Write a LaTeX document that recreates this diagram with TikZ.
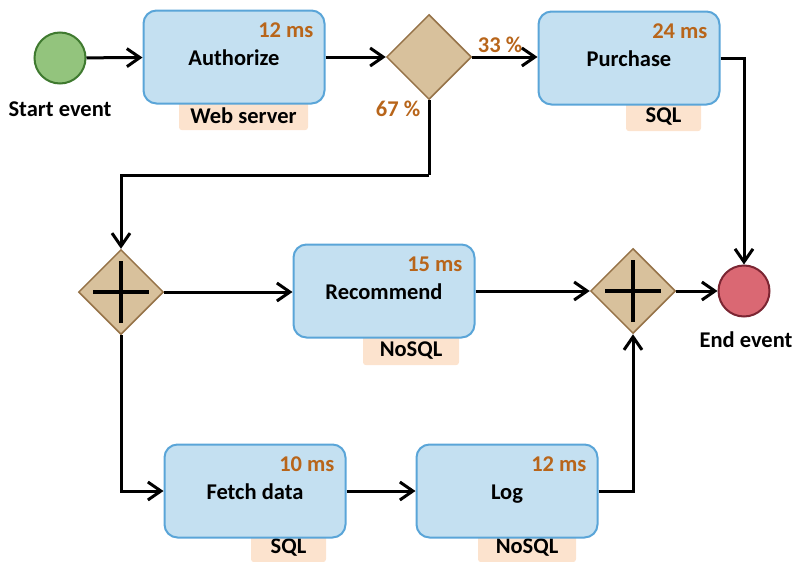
\documentclass[tikz,border=0pt]{standalone}
\usepackage{fontspec}
\setmainfont{Carlito}
\usetikzlibrary{shapes.geometric,arrows.meta}
\definecolor{boxfill}{HTML}{C4E0F1}
\definecolor{boxline}{HTML}{5AA5D8}
\definecolor{tagfill}{HTML}{FCE3CE}
\definecolor{gatefill}{HTML}{D8C19C}
\definecolor{gateline}{HTML}{957247}
\definecolor{startfill}{HTML}{93C47D}
\definecolor{startline}{HTML}{3F7A2F}
\definecolor{endfill}{HTML}{DA6873}
\definecolor{endline}{HTML}{7B2532}
\definecolor{timecol}{HTML}{B8651A}
\tikzset{
  every node/.style={font=\fontsize{22.5}{26}\selectfont\bfseries},
  task/.style={draw=boxline, fill=boxfill, line width=2pt, rounded corners=13pt,
    minimum width=181pt, minimum height=93pt, inner sep=0pt, text height=17pt, text depth=0pt},
  tag/.style={fill=tagfill, rounded corners=3pt, anchor=north, minimum height=30pt, inner sep=0pt},
  gate/.style={diamond, draw=gateline, fill=gatefill, line width=1.5pt, minimum width=85pt,
    minimum height=85pt, inner sep=0pt},
  event/.style={circle, line width=2pt, minimum size=51pt, inner sep=0pt},
  time/.style={text=timecol, anchor=east},
  pct/.style={text=timecol},
  flow/.style={line width=3pt, -{Straight Barb[length=13pt,width=18pt]}},
  line/.style={line width=3pt},
  plus/.style={line width=4pt}
}
\begin{document}
\begin{tikzpicture}[x=1pt,y=-1pt]
\useasboundingbox (0,0) rectangle (793,562);
% tags (behind tasks)
\node[tag, minimum width=129pt] (tagA) at (243.5,100) {Web server};
\node[tag, minimum width=75pt] (tagP) at (663.5,101) {SQL};
\node[tag, minimum width=96pt] (tagR) at (411,335) {NoSQL};
\node[tag, minimum width=75pt, minimum height=30pt] (tagF) at (288.5,532) {SQL};
\node[tag, minimum width=98pt, minimum height=30pt] (tagL) at (527,532) {NoSQL};
% events
\node[event, draw=startline, fill=startfill] (start) at (60,58) {};
\node (startlbl) at (60,109) {Start event};
\node[event, draw=endline, fill=endfill] (endev) at (744,291) {};
\node (endlbl) at (746,340) {End event};
% tasks
\node[task] (auth) at (234,57) {Authorize};
\node[task] (purch) at (629,58) {Purchase};
\node[task] (rec) at (384,291) {Recommend};
\node[task] (fetch) at (255,491) {Fetch data};
\node[task] (log) at (507,491) {Log};
% times
\node[time] (tA) at (317,30) {12 ms};
\node[time] (tP) at (711,31) {24 ms};
\node[time] (tR) at (466,264) {15 ms};
\node[time] (tF) at (338,464) {10 ms};
\node[time] (tL) at (590,464) {12 ms};
% gateways
\node[gate] (g1) at (429,57) {};
\node[gate] (g2) at (121,292) {};
\node[gate] (g3) at (633,291) {};
\draw[plus] ([xshift=-28pt]g2.center) -- ([xshift=28pt]g2.center);
\draw[plus] ([yshift=-31pt]g2.center) -- ([yshift=31pt]g2.center);
\draw[plus] ([xshift=-28pt]g3.center) -- ([xshift=28pt]g3.center);
\draw[plus] ([yshift=-31pt]g3.center) -- ([yshift=31pt]g3.center);
% percentages
\node[pct] (p33) at (500,45) {33 \%};
\node[pct] (p67) at (398,109) {67 \%};
% connectors
\coordinate (c1) at (429,175);
\draw[flow] (start) -- (auth);
\draw[flow] (auth.east) -- (g1.west);
\draw[flow] (g1.east) -- (g1.east -| purch.west);
\draw[flow] (purch.east) -| (endev.north);
\draw[line] (g1.south) -- (c1);
\draw[flow] (c1) -| (g2.north);
\draw[flow] (g2.east) -- (g2.east -| rec.west);
\draw[flow] (rec.east) -- (rec.east -| g3.west);
\draw[flow] (g3.east) -- (endev.west);
\draw[flow] (g2.south) |- (fetch.west);
\draw[flow] (fetch.east) -- (log.west);
\draw[flow] (log.east) -| (g3.south);
\end{tikzpicture}
\end{document}
